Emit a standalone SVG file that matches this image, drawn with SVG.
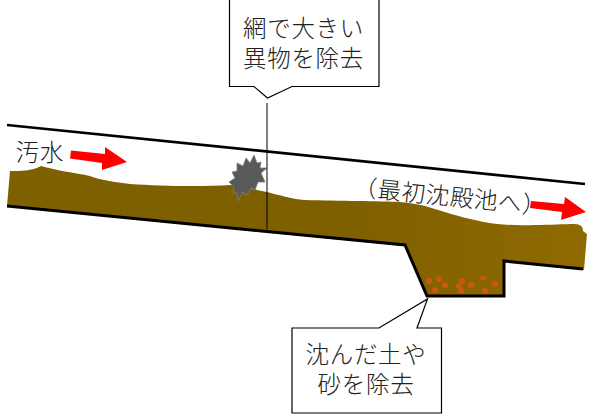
<svg xmlns="http://www.w3.org/2000/svg" width="611" height="415" viewBox="0 0 611 415">
<style>
text{font-family:"Liberation Sans","Noto Sans CJK JP",sans-serif;font-size:23.5px;fill:#222;text-anchor:middle;font-weight:300;letter-spacing:0.7px}
.call{fill:#fff;stroke:#000;stroke-width:1.2}
.wall{fill:none;stroke:#000;stroke-width:3;stroke-linejoin:miter}
.roof{stroke-width:2.7}
.arrow{fill:#ff0000}
.dot{fill:#c55a11}
</style>
<defs>
<linearGradient id="mud" x1="0" x2="1" y1="0" y2="0"><stop offset="0.6" stop-color="#7f6000"/><stop offset="1" stop-color="#8f6a00"/></linearGradient>
</defs>
<rect width="611" height="415" fill="#fff"/>
<g id="sewage">
<path fill="url(#mud)" d="M7 206L10 171C20 171 32 171 41 166C55 170 75 173 90 176C100 180 115 182 130 184C160 186 200 187 230 185C245 186 255 190 267 192C280 195 290 199 305 200C340 201 380 201 400 202C410 203 418 204 425 206C445 212 460 217 475 220C490 224 510 226 535 225C550 225 565 224 575 224Q583 224 583 231L587 234L584 270L504 262L504 297L427 297L405 246L260 232Z"/>
<g id="sand">
<ellipse class="dot" cx="429" cy="281" rx="3.4" ry="3"/><ellipse class="dot" cx="439" cy="279" rx="3.2" ry="3"/><ellipse class="dot" cx="445" cy="285" rx="3.4" ry="3"/><ellipse class="dot" cx="435" cy="290" rx="3.2" ry="3"/><ellipse class="dot" cx="459" cy="286" rx="3.4" ry="3"/><ellipse class="dot" cx="462" cy="281" rx="3.2" ry="3"/><ellipse class="dot" cx="461" cy="291" rx="3.4" ry="3"/><ellipse class="dot" cx="471" cy="285" rx="3.4" ry="3"/><ellipse class="dot" cx="483" cy="278" rx="3.4" ry="2.5"/><ellipse class="dot" cx="485" cy="291" rx="3.4" ry="3"/><ellipse class="dot" cx="495" cy="284" rx="3.4" ry="3"/>
</g>
</g>
<g id="debris">
<polygon fill="#595959" stroke="#7f7f7f" stroke-width="0.8" points="254,155 257,163 261,162 260,168 267,168 261,173 265,182 258,182 255,190 251,188 247,195 243,192 238,201 237,193 233,193 234,187 229,182 235,178 232,172 237,171 237,163 243,166 246,158 250,163"/>
</g>
<g id="connectors">
<path class="wall roof" d="M7 125L585 184"/>
<path class="wall" d="M7 206L405 245L427 296L504 296L504 261L583 269"/>
<path fill="none" stroke="#000" stroke-width="1" d="M267 103V229"/>
</g>
<g id="flow-in">
<polygon class="arrow" points="71,150.5 70,158.5 102,163 102,170 127,162 105,147 105,154"/>
<text x="40" y="161">汚水</text>
</g>
<g id="flow-out">
<polygon class="arrow" points="531,201 530,208 562,212 561,220 586,212 565,197 564,204"/>
<text x="450" y="205" transform="rotate(5.7 450 197)">（最初沈殿池へ）</text>
</g>
<g id="callout-screen">
<polygon class="call" points="229.5,-2 379,-2 379,86.5 292,86.5 267.5,98 254,86.5 229.5,86.5"/>
<text><tspan x="303.5" y="37">網で大きい</tspan><tspan x="303.5" y="67">異物を除去</tspan></text>
</g>
<g id="callout-sand">
<polygon class="call" points="292,328 379,328 427.5,299 417,328 441.5,328 441.5,413 292,413"/>
<text><tspan x="366" y="363">沈んだ土や</tspan><tspan x="366" y="393">砂を除去</tspan></text>
</g>
</svg>
